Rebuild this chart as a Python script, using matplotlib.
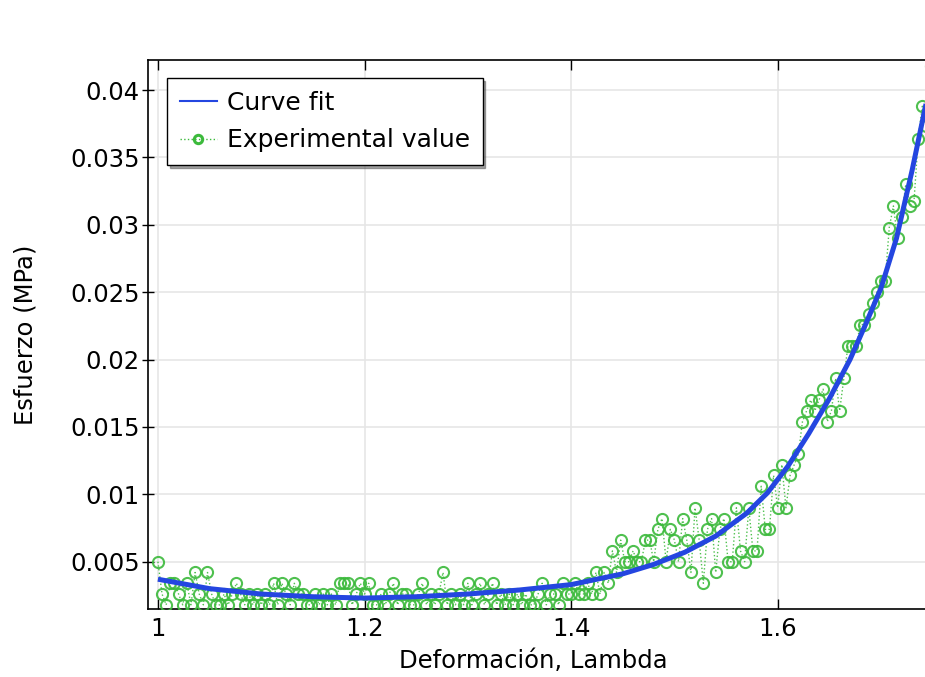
import numpy as np
import matplotlib
matplotlib.use('Agg')
import matplotlib.pyplot as plt
from matplotlib.lines import Line2D

# curve fit
fit_lambda = [1.00, 1.05, 1.10, 1.15, 1.20, 1.25, 1.30, 1.35, 1.40, 1.45,
              1.48, 1.51, 1.54, 1.57, 1.59, 1.61, 1.63, 1.65, 1.67, 1.685,
              1.70, 1.715, 1.73, 1.745]
fit_stress = [0.0037, 0.0030, 0.0026, 0.0024, 0.0023, 0.0024, 0.0026, 0.0029,
              0.0033, 0.0041, 0.0048, 0.0057, 0.0069, 0.0086, 0.0101, 0.0121,
              0.0145, 0.0171, 0.0200, 0.0226, 0.0253, 0.0290, 0.0340, 0.0395]

# experimental points (quantised sensor readings), step 0.004 in lambda
exp_stress = [
    0.0050, 0.0026, 0.0018, 0.0034, 0.0034, 0.0026, 0.0018, 0.0034, 0.0018, 0.0042,
    0.0026, 0.0018, 0.0042, 0.0026, 0.0018, 0.0018, 0.0026, 0.0018, 0.0026, 0.0034,
    0.0026, 0.0018, 0.0026, 0.0018, 0.0026, 0.0018, 0.0026, 0.0018, 0.0034, 0.0018,
    0.0034, 0.0026, 0.0018, 0.0034, 0.0026, 0.0026, 0.0018, 0.0018, 0.0026, 0.0018,
    0.0026, 0.0018, 0.0026, 0.0018, 0.0034, 0.0034, 0.0034, 0.0018, 0.0026, 0.0034,
    0.0026, 0.0034, 0.0018, 0.0018, 0.0026, 0.0018, 0.0026, 0.0034, 0.0018, 0.0026,
    0.0026, 0.0018, 0.0018, 0.0026, 0.0034, 0.0018, 0.0026, 0.0018, 0.0026, 0.0042,
    0.0018, 0.0026, 0.0018, 0.0026, 0.0018, 0.0034, 0.0018, 0.0026, 0.0034, 0.0018,
    0.0026, 0.0034, 0.0018, 0.0026, 0.0018, 0.0026, 0.0018, 0.0026, 0.0018, 0.0026,
    0.0018, 0.0018, 0.0026, 0.0034, 0.0018, 0.0026, 0.0026, 0.0018, 0.0034, 0.0026,
    0.0026, 0.0034, 0.0026, 0.0026, 0.0034, 0.0026, 0.0042, 0.0026, 0.0042, 0.0034,
    0.0058, 0.0042, 0.0066, 0.0050, 0.0050, 0.0058, 0.0050, 0.0050, 0.0066, 0.0066,
    0.0050, 0.0074, 0.0082, 0.0050, 0.0074, 0.0066, 0.0050, 0.0082, 0.0066, 0.0042,
    0.0090, 0.0066, 0.0034, 0.0074, 0.0082, 0.0042, 0.0074, 0.0082, 0.0050, 0.0050,
    0.0090, 0.0058, 0.0050, 0.0090, 0.0058, 0.0058, 0.0106, 0.0074, 0.0074, 0.0114,
    0.0090, 0.0122, 0.0090, 0.0114, 0.0122, 0.0130, 0.0154, 0.0162, 0.0170, 0.0162,
    0.0170, 0.0178, 0.0154, 0.0162, 0.0186, 0.0162, 0.0186, 0.0210, 0.0210, 0.0210,
    0.0226, 0.0226, 0.0234, 0.0242, 0.0250, 0.0258, 0.0258, 0.0298, 0.0314, 0.0290,
    0.0306, 0.0330, 0.0314, 0.0318, 0.0364, 0.0388, 0.0373, 0.0418,
]
exp_lambda = 1.0 + 0.004 * np.arange(len(exp_stress))

x_ticks = [1.0, 1.2, 1.4, 1.6]
y_ticks = [0.005, 0.01, 0.015, 0.02, 0.025, 0.03, 0.035, 0.04]
y_ticklabels = ['0.005', '0.01', '0.015', '0.02', '0.025', '0.03', '0.035', '0.04']

FS = 17.5
green = '#3cba3c'
blue = '#2446e0'

fig = plt.figure(figsize=(9.25, 6.77), dpi=100)
ax = fig.add_axes([148 / 925, 68 / 677, 777 / 925, 549 / 677])

ax.plot(exp_lambda, exp_stress, linestyle=':', color=green, lw=1.0,
        marker='o', markersize=8, markerfacecolor='none',
        markeredgecolor=green, markeredgewidth=1.5, zorder=3, alpha=0.9)
ax.plot(fit_lambda, fit_stress, color=blue, lw=3.6, zorder=4,
        solid_capstyle='butt', solid_joinstyle='round')

ax.set_xlim(0.9904, 1.7426)
ax.set_ylim(0.00149, 0.04223)
ax.set_xticks(x_ticks)
ax.set_xticklabels(['1', '1.2', '1.4', '1.6'])
ax.set_yticks(y_ticks)
ax.set_yticklabels(y_ticklabels)
ax.grid(True, color='#e6e6e6', lw=1.2, zorder=0)
ax.set_axisbelow(True)

ax.tick_params(axis='x', direction='in', top=True, length=7, width=1,
               labelsize=FS, pad=6)
ax.tick_params(axis='y', direction='inout', length=8, width=1,
               labelsize=FS, pad=2)
ax.spines['right'].set_visible(False)
for s in ['left', 'bottom', 'top']:
    ax.spines[s].set_linewidth(1.2)

ax.set_xlabel('Deformación, Lambda', fontsize=FS)
ax.xaxis.label.set_va('center')
ax.xaxis.set_label_coords(0.496, -0.095)
ax.set_ylabel('Esfuerzo (MPa)', fontsize=FS)
ax.yaxis.label.set_va('center')
ax.yaxis.set_label_coords(-0.158, 0.5)

handles = [
    Line2D([], [], color=blue, lw=1.5),
    Line2D([], [], color=green, lw=1.0, linestyle=':', marker='o',
           markersize=6, markerfacecolor='none', markeredgecolor=green,
           markeredgewidth=2.2),
]
leg = ax.legend(handles, ['Curve fit', 'Experimental value'],
                loc='upper left', bbox_to_anchor=(0.0245, 0.967),
                borderaxespad=0, fontsize=18, fancybox=False, shadow=True,
                framealpha=1, edgecolor='black', handlelength=1.5,
                handletextpad=0.4, labelspacing=0.55, borderpad=0.5)
leg.get_frame().set_linewidth(1.0)

fig.savefig('out.png', dpi=100)
